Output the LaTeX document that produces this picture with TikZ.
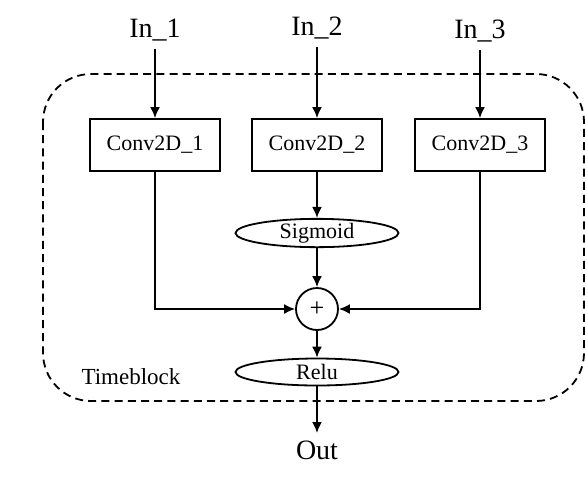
\documentclass[tikz,border=0pt]{standalone}
\usepackage{fontspec}
\setmainfont{Liberation Serif}
\usetikzlibrary{arrows.meta,shapes.geometric}
\begin{document}
\begin{tikzpicture}[x=0.5pt,y=-0.5pt,line width=0.9pt,
    convbox/.style={draw,minimum width=65pt,minimum height=26pt,font=\fontsize{11}{13}\selectfont},
    actfn/.style={draw,ellipse,minimum width=81.5pt,minimum height=13.5pt,inner sep=0pt,font=\fontsize{11}{13}\selectfont},
    io/.style={font=\fontsize{14}{16}\selectfont},
    >={Latex[length=5.5pt,width=5pt]}]
      \useasboundingbox (0,0) rectangle (585,484);
      \draw[dashed,dash pattern=on 4pt off 2.6pt,rounded corners=24pt] (43,74) rectangle (584,401);
      \draw
        (155,30) node[io] (in1){In\_1}
        (317,28) node[io] (in2){In\_2}
        (480,31) node[io] (in3){In\_3}
        (155,145) node[convbox] (c1){Conv2D\_1}
        (317,145) node[convbox] (c2){Conv2D\_2}
        (480,145) node[convbox] (c3){Conv2D\_3}
        (317,233) node[actfn] (sig){Sigmoid}
        (317,309) node[draw,circle,minimum size=21pt,inner sep=0pt,font=\fontsize{13}{15}\selectfont] (add){+}
        (317,372) node[actfn] (relu){Relu}
        (317,450) node[io] (out){Out}
        (131,377) node[font=\fontsize{11.5}{13}\selectfont] (tb){Timeblock};
      \begin{scope}[->]
        \draw (in1) to (c1);
        \draw (in2) to (c2);
        \draw (in3) to (c3);
        \draw (c2) to (sig);
        \draw (sig) to (add);
        \draw (c1) |- (add);
        \draw (c3) |- (add);
        \draw (add) to (relu);
        \draw (relu) to (out);
      \end{scope}
    \end{tikzpicture}
\end{document}
